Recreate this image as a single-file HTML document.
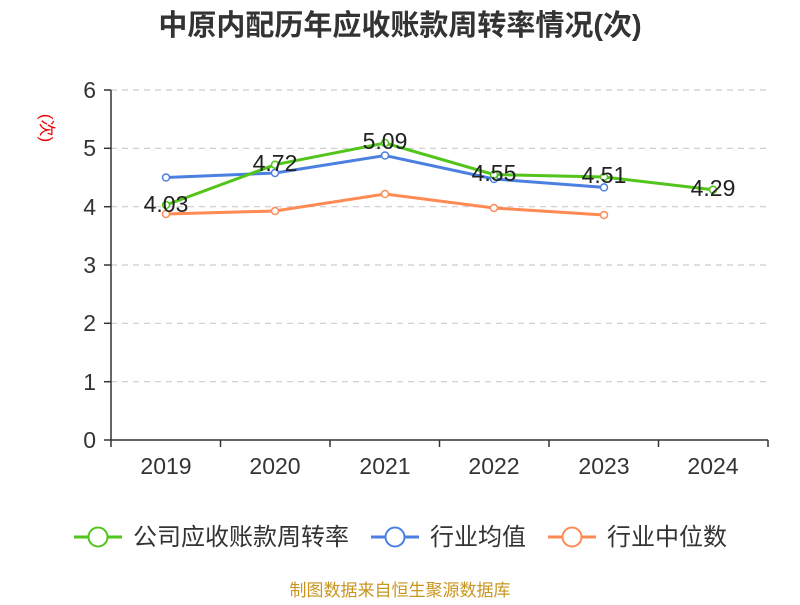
<!DOCTYPE html>
<html><head><meta charset="utf-8"><style>body{margin:0;background:#fff}</style></head><body>
<svg width="800" height="600" xmlns="http://www.w3.org/2000/svg" font-family="Liberation Sans, Noto Sans CJK SC, sans-serif">
<text x="400" y="35" text-anchor="middle" font-size="29" font-weight="bold" fill="#333">中原内配历年应收账款周转率情况(次)</text>
<g stroke="#ccc" stroke-dasharray="6,5" stroke-width="1.2">
<line x1="111" x2="768" y1="90" y2="90"/><line x1="111" x2="768" y1="148.3" y2="148.3"/><line x1="111" x2="768" y1="206.7" y2="206.7"/><line x1="111" x2="768" y1="265" y2="265"/><line x1="111" x2="768" y1="323.3" y2="323.3"/><line x1="111" x2="768" y1="381.7" y2="381.7"/>
</g>
<g stroke="#333" stroke-width="1.5">
<line x1="111" x2="111" y1="90" y2="440"/><line x1="111" x2="768" y1="440" y2="440"/>
<line x1="104" x2="111" y1="90" y2="90"/><line x1="104" x2="111" y1="148.3" y2="148.3"/><line x1="104" x2="111" y1="206.7" y2="206.7"/><line x1="104" x2="111" y1="265" y2="265"/><line x1="104" x2="111" y1="323.3" y2="323.3"/><line x1="104" x2="111" y1="381.7" y2="381.7"/><line x1="104" x2="111" y1="440" y2="440"/>
<line x1="111" x2="111" y1="440" y2="447"/><line x1="220.5" x2="220.5" y1="440" y2="447"/><line x1="330" x2="330" y1="440" y2="447"/><line x1="439.5" x2="439.5" y1="440" y2="447"/><line x1="549" x2="549" y1="440" y2="447"/><line x1="658.5" x2="658.5" y1="440" y2="447"/><line x1="768" x2="768" y1="440" y2="447"/>
</g>
<g font-size="23" fill="#333" text-anchor="end">
<text x="96" y="98">6</text><text x="96" y="156">5</text><text x="96" y="215">4</text><text x="96" y="273">3</text><text x="96" y="331">2</text><text x="96" y="390">1</text><text x="96" y="448">0</text>
</g>
<g font-size="23" fill="#333" text-anchor="middle">
<text x="166" y="474">2019</text><text x="275" y="474">2020</text><text x="385" y="474">2021</text><text x="494" y="474">2022</text><text x="604" y="474">2023</text><text x="713" y="474">2024</text>
</g>
<text transform="translate(41,128) rotate(90)" font-size="17" fill="#e00" text-anchor="middle">(次)</text>
<g fill="#fff" stroke-width="3">
<polyline fill="none" stroke="#fe8a54" points="166,214 275,211 385,194 494,208 604,215"/>
<polyline fill="none" stroke="#4b80e0" points="166,177.5 275,173 385,155.5 494,179 604,187.4"/>
<polyline fill="none" stroke="#52c41a" points="166,205 275,164.7 385,143 494,174.6 604,177 713,189.8"/>
<g stroke="#fe8a54" stroke-width="1.5"><circle cx="166" cy="214" r="3.5"/><circle cx="275" cy="211" r="3.5"/><circle cx="385" cy="194" r="3.5"/><circle cx="494" cy="208" r="3.5"/><circle cx="604" cy="215" r="3.5"/></g>
<g stroke="#4b80e0" stroke-width="1.5"><circle cx="166" cy="177.5" r="3.5"/><circle cx="275" cy="173" r="3.5"/><circle cx="385" cy="155.5" r="3.5"/><circle cx="494" cy="179" r="3.5"/><circle cx="604" cy="187.4" r="3.5"/></g>
<g stroke="#52c41a" stroke-width="1.5"><circle cx="166" cy="205" r="3.5"/><circle cx="275" cy="164.7" r="3.5"/><circle cx="385" cy="143" r="3.5"/><circle cx="494" cy="174.6" r="3.5"/><circle cx="604" cy="177" r="3.5"/><circle cx="713" cy="189.8" r="3.5"/></g>
</g>
<g font-size="23" fill="#222" text-anchor="middle">
<text x="166" y="212">4.03</text><text x="275" y="171">4.72</text><text x="385" y="149">5.09</text><text x="494" y="181">4.55</text><text x="604" y="183">4.51</text><text x="713" y="196">4.29</text>
</g>
<g stroke-width="3" fill="#fff">
<line x1="74" x2="122" y1="537" y2="537" stroke="#52c41a"/><circle cx="98" cy="537" r="9.5" stroke="#52c41a" stroke-width="2"/>
<line x1="371" x2="419" y1="537" y2="537" stroke="#4b80e0"/><circle cx="395" cy="537" r="9.5" stroke="#4b80e0" stroke-width="2"/>
<line x1="548" x2="596" y1="537" y2="537" stroke="#fe8a54"/><circle cx="572" cy="537" r="9.5" stroke="#fe8a54" stroke-width="2"/>
</g>
<g font-size="24" fill="#333">
<text x="133" y="545">公司应收账款周转率</text><text x="430" y="545">行业均值</text><text x="607" y="545">行业中位数</text>
</g>
<text x="400" y="596" text-anchor="middle" font-size="17" fill="#c8961e">制图数据来自恒生聚源数据库</text>
</svg>
</body></html>
